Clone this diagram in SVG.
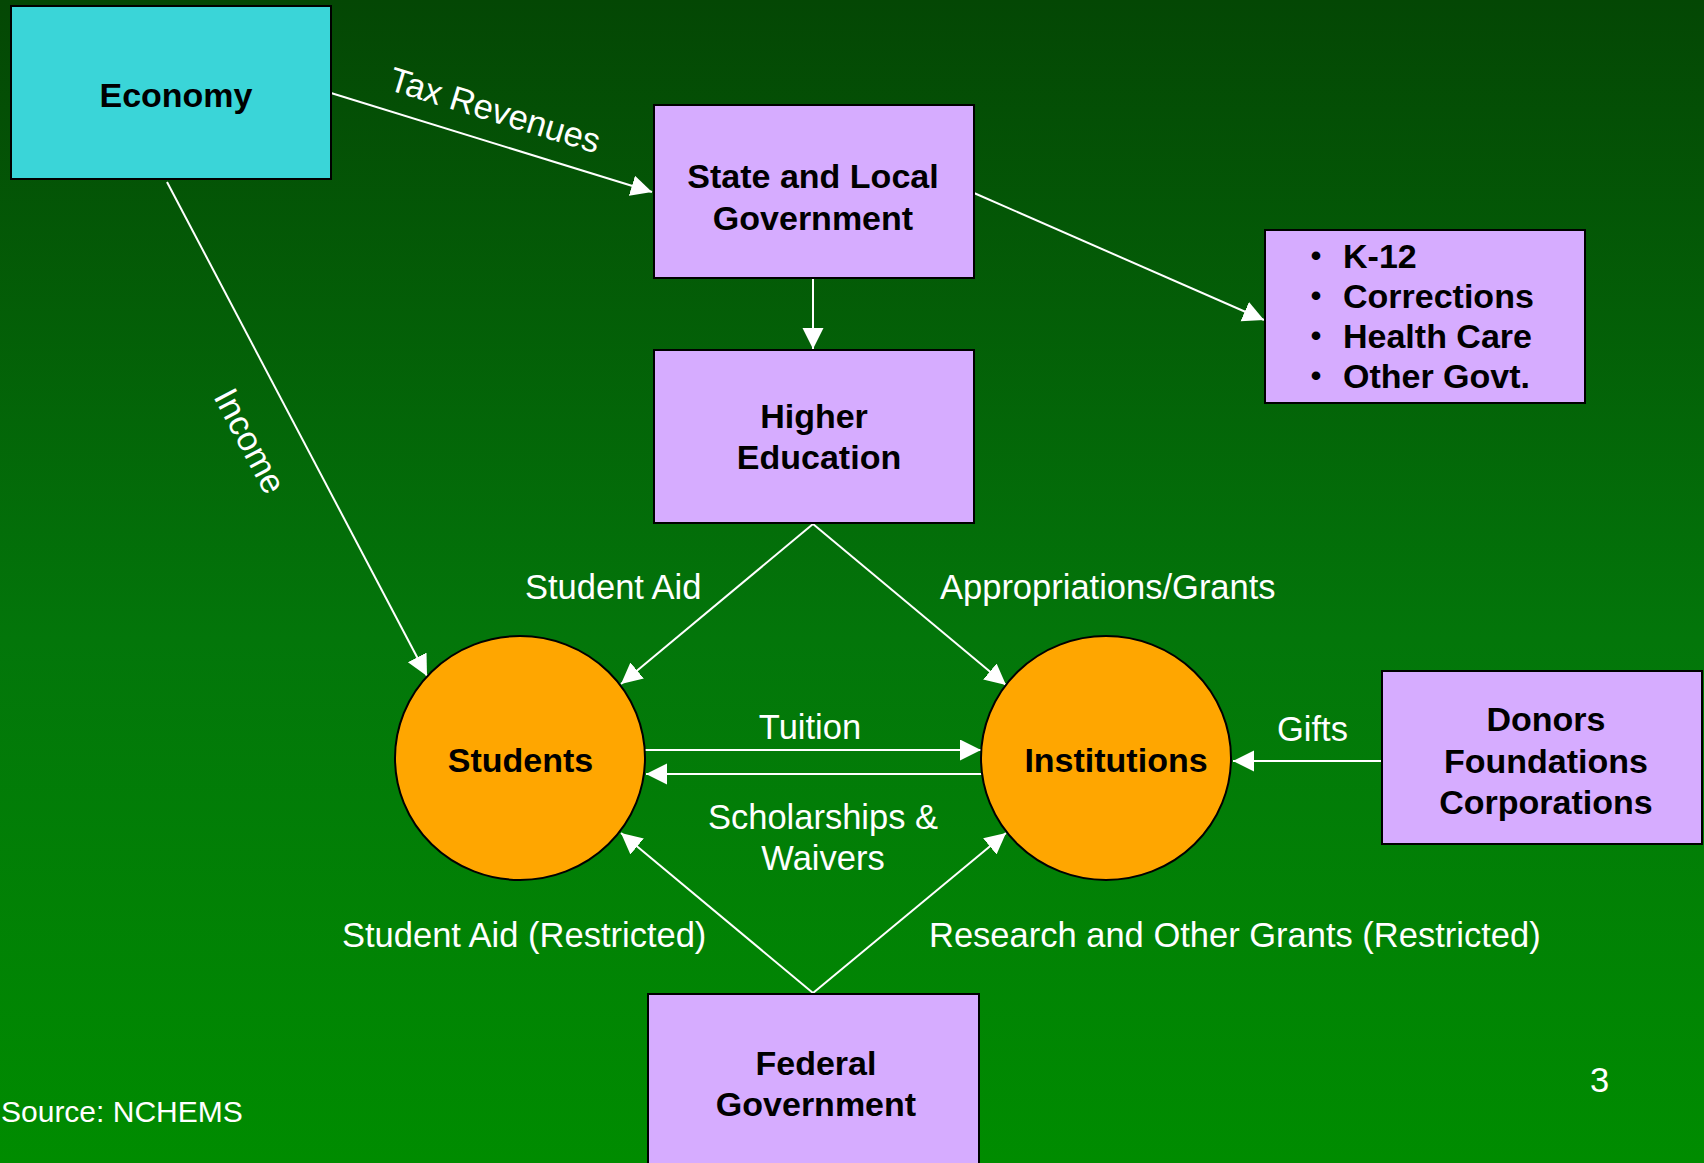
<svg xmlns="http://www.w3.org/2000/svg" width="1704" height="1163" viewBox="0 0 1704 1163">
  <defs>
    <linearGradient id="bg" x1="0" y1="0" x2="0" y2="1">
      <stop offset="0" stop-color="#044704"/>
      <stop offset="0.55" stop-color="#03760a"/>
      <stop offset="1" stop-color="#008c00"/>
    </linearGradient>
    <marker id="arrow" markerUnits="userSpaceOnUse" markerWidth="22" markerHeight="22" refX="21" refY="10.5" orient="auto">
      <path d="M0,0 L21,10.5 L0,21 z" fill="#ffffff"/>
    </marker>
    <style>
      .box { fill: #d6acff; stroke: #000000; stroke-width: 2; }
      .econ { fill: #3ad5d8; stroke: #000000; stroke-width: 2; }
      .circ { fill: #ffa600; stroke: #000000; stroke-width: 2; }
      .node { font-family: "Liberation Sans", Arial, sans-serif; font-weight: bold; font-size: 34px; fill: #000000; }
      .bullet { font-family: "Liberation Sans", Arial, sans-serif; font-weight: bold; font-size: 30px; fill: #000000; }
      .lbl { font-family: "Liberation Sans", Arial, sans-serif; font-size: 34.5px; fill: #ffffff; }
      .edge { stroke: #ffffff; stroke-width: 2; fill: none; marker-end: url(#arrow); }
    </style>
  </defs>

  <rect x="0" y="0" width="1704" height="1163" fill="url(#bg)"/>

  <!-- connectors -->
  <g id="connectors">
    <line class="edge" x1="331" y1="93" x2="652" y2="192"/>
    <line class="edge" x1="167" y1="182" x2="427" y2="676"/>
    <line class="edge" x1="813" y1="278" x2="813" y2="349"/>
    <line class="edge" x1="974" y1="193" x2="1264" y2="320"/>
    <line class="edge" x1="813" y1="524" x2="621" y2="684"/>
    <line class="edge" x1="813" y1="524" x2="1006" y2="685"/>
    <line class="edge" x1="645" y1="750" x2="981" y2="750"/>
    <line class="edge" x1="982" y1="774" x2="646" y2="774"/>
    <line class="edge" x1="1382" y1="761" x2="1233" y2="761"/>
    <line class="edge" x1="813" y1="993" x2="621" y2="833"/>
    <line class="edge" x1="813" y1="993" x2="1006" y2="833"/>

    <text class="lbl" text-anchor="middle" transform="translate(491.5,121.5) rotate(17)">Tax Revenues</text>
    <text class="lbl" text-anchor="middle" transform="translate(239.5,446.5) rotate(62)">Income</text>
    <text class="lbl" x="525" y="599">Student Aid</text>
    <text class="lbl" x="940" y="599">Appropriations/Grants</text>
    <text class="lbl" x="810" y="739" text-anchor="middle">Tuition</text>
    <text class="lbl" x="823" y="829" text-anchor="middle">Scholarships &amp;</text>
    <text class="lbl" x="823" y="870" text-anchor="middle">Waivers</text>
    <text class="lbl" x="1312.5" y="741" text-anchor="middle">Gifts</text>
    <text class="lbl" x="342" y="947">Student Aid (Restricted)</text>
    <text class="lbl" x="929" y="947">Research and Other Grants (Restricted)</text>
  </g>

  <!-- nodes -->
  <g id="economy">
    <rect class="econ" x="11" y="6" width="320" height="173"/>
    <text class="node" x="176" y="107" text-anchor="middle">Economy</text>
  </g>

  <g id="state-local">
    <rect class="box" x="654" y="105" width="320" height="173"/>
    <text class="node" x="813" y="188" text-anchor="middle">State and Local</text>
    <text class="node" x="813" y="230" text-anchor="middle">Government</text>
  </g>

  <g id="other-spending">
    <rect class="box" x="1265" y="230" width="320" height="173"/>
    <text class="bullet" x="1316" y="266" text-anchor="middle">•</text>
    <text class="node" x="1343" y="268">K-12</text>
    <text class="bullet" x="1316" y="306" text-anchor="middle">•</text>
    <text class="node" x="1343" y="308">Corrections</text>
    <text class="bullet" x="1316" y="346" text-anchor="middle">•</text>
    <text class="node" x="1343" y="348">Health Care</text>
    <text class="bullet" x="1316" y="386" text-anchor="middle">•</text>
    <text class="node" x="1343" y="388">Other Govt.</text>
  </g>

  <g id="higher-education">
    <rect class="box" x="654" y="350" width="320" height="173"/>
    <text class="node" x="814" y="428" text-anchor="middle">Higher</text>
    <text class="node" x="819" y="469" text-anchor="middle">Education</text>
  </g>

  <g id="students">
    <ellipse class="circ" cx="520" cy="758" rx="125" ry="122"/>
    <text class="node" x="520.5" y="772" text-anchor="middle">Students</text>
  </g>

  <g id="institutions">
    <ellipse class="circ" cx="1106" cy="758" rx="125" ry="122"/>
    <text class="node" x="1116" y="772" text-anchor="middle">Institutions</text>
  </g>

  <g id="donors">
    <rect class="box" x="1382" y="671" width="320" height="173"/>
    <text class="node" x="1546" y="731" text-anchor="middle">Donors</text>
    <text class="node" x="1546" y="773" text-anchor="middle">Foundations</text>
    <text class="node" x="1546" y="814" text-anchor="middle">Corporations</text>
  </g>

  <g id="federal">
    <rect class="box" x="648" y="994" width="331" height="185"/>
    <text class="node" x="816" y="1075" text-anchor="middle">Federal</text>
    <text class="node" x="816" y="1116" text-anchor="middle">Government</text>
  </g>

  <!-- footer -->
  <text class="lbl" x="1" y="1122" style="font-size:30px">Source: NCHEMS</text>
  <text class="lbl" x="1599.5" y="1092" text-anchor="middle">3</text>
</svg>
